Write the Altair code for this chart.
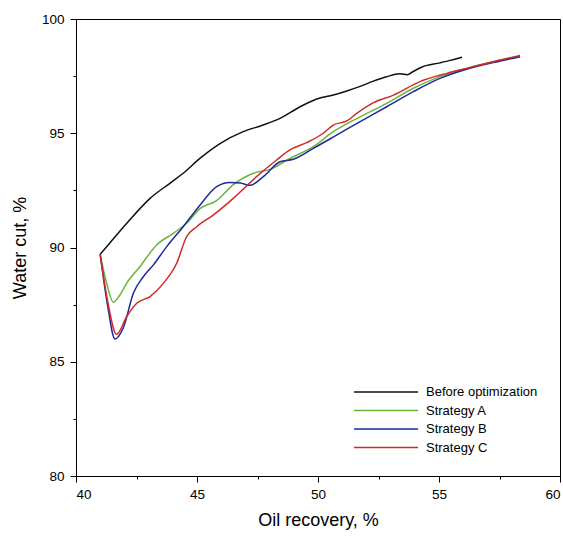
import altair as alt
import pandas as pd

series_names = ["Before optimization", "Strategy A", "Strategy B", "Strategy C"]
series_colors = ["#111111", "#6cb33e", "#1c2a9a", "#d02a27"]

before_x = [41.0, 41.4, 42.1, 43.06, 43.88, 44.43, 45.12, 45.95, 46.91, 47.7, 48.43, 49.26, 49.95,
            50.63, 51.19, 51.74, 52.29, 52.8, 53.39, 53.7, 53.9, 54.3, 55.04, 55.5, 55.95]
before_y = [89.7, 90.2, 91.06, 92.15, 92.81, 93.25, 93.9, 94.55, 95.07, 95.35, 95.65, 96.16, 96.5,
            96.67, 96.85, 97.05, 97.28, 97.46, 97.6, 97.56, 97.68, 97.9, 98.08, 98.2, 98.33]

a_x = [41.0, 41.3, 41.54, 41.8, 42.09, 42.64, 43.33, 44.02, 44.57, 45.12, 45.81, 46.5, 47.33, 48.02,
       48.84, 49.81, 50.63, 51.74, 52.84, 53.94, 55.04, 56.14, 57.24, 58.35]
a_y = [89.7, 88.3, 87.6, 87.9, 88.43, 89.16, 90.11, 90.62, 91.06, 91.7, 92.05, 92.75, 93.25, 93.42,
       93.9, 94.41, 95.07, 95.72, 96.31, 96.97, 97.48, 97.84, 98.13, 98.38]

b_x = [41.0, 41.3, 41.61, 41.96, 42.37, 42.78, 43.19, 43.75, 44.43, 45.12, 45.81, 46.36, 46.8, 47.19,
       47.74, 48.43, 48.98, 49.81, 50.77, 51.74, 52.84, 53.94, 55.04, 56.14, 57.24, 58.35]
b_y = [89.7, 87.5, 86.0, 86.5, 88.0, 88.72, 89.23, 90.04, 90.91, 91.85, 92.66, 92.85, 92.82, 92.72,
       93.1, 93.75, 93.86, 94.34, 94.92, 95.51, 96.16, 96.82, 97.4, 97.8, 98.09, 98.35]

c_x = [41.0, 41.3, 41.68, 42.09, 42.51, 43.06, 43.61, 44.16, 44.57, 44.99, 45.67, 46.5, 47.46, 48.29,
       48.84, 49.53, 50.22, 50.63, 51.19, 51.6, 52.29, 53.12, 54.21, 55.32, 56.14, 57.24, 58.35]
c_y = [89.7, 87.7, 86.2, 86.97, 87.56, 87.85, 88.43, 89.31, 90.47, 90.91, 91.42, 92.15, 93.1, 93.83,
       94.27, 94.59, 95.0, 95.36, 95.54, 95.87, 96.34, 96.67, 97.26, 97.62, 97.84, 98.13, 98.4]

x_ticks = [40, 42.5, 45, 47.5, 50, 52.5, 55, 57.5, 60]
y_ticks = [80, 82.5, 85, 87.5, 90, 92.5, 95, 97.5, 100]

rows = []
for name, xs, ys in zip(series_names, [before_x, a_x, b_x, c_x], [before_y, a_y, b_y, c_y]):
    for i, (xv, yv) in enumerate(zip(xs, ys)):
        rows.append({"series": name, "order": i, "x": xv, "y": yv})
df = pd.DataFrame(rows)

font = "Liberation Sans"
tick_cond = {"condition": {"test": "datum.value % 5 === 0", "value": 6}, "value": 3}

chart = alt.Chart(df).mark_line(strokeWidth=1.5, interpolate="monotone").encode(
    x=alt.X("x:Q", scale=alt.Scale(domain=[40, 60], nice=False, zero=False),
            axis=alt.Axis(values=x_ticks, title="Oil recovery, %",
                          labelExpr="datum.value % 5 === 0 ? datum.label : ''",
                          tickSize=tick_cond, labelPadding=5, titlePadding=11)),
    y=alt.Y("y:Q", scale=alt.Scale(domain=[80, 100], nice=False, zero=False),
            axis=alt.Axis(values=y_ticks, title="Water cut, %",
                          labelExpr="datum.value % 5 === 0 ? datum.label : ''",
                          tickSize=tick_cond, labelPadding=6, titlePadding=12)),
    color=alt.Color("series:N", scale=alt.Scale(domain=series_names, range=series_colors),
                    legend=alt.Legend(title=None, orient="none", legendX=301, legendY=364,
                                      symbolType="M-4,0H4", symbolSize=256, symbolStrokeWidth=1.5,
                                      labelOffset=31, rowPadding=2.5, padding=0,
                                      labelFont=font, labelFontSize=13, labelColor="black")),
    order="order:Q",
    detail="series:N",
).properties(
    width=484, height=457,
    autosize=alt.AutoSizeParams(type="none"),
    padding={"left": 76, "top": 19, "right": 3, "bottom": 62},
).configure_view(
    stroke="black", strokeWidth=1
).configure_axis(
    grid=False, domainColor="black", tickColor="black", labelColor="black", titleColor="black",
    labelFont=font, titleFont=font, labelFontSize=13.5, titleFontSize=18, titleFontWeight="normal",
    domainWidth=1, tickWidth=1
)

chart.save("out.html", embed_options={"renderer": "svg", "actions": False})
